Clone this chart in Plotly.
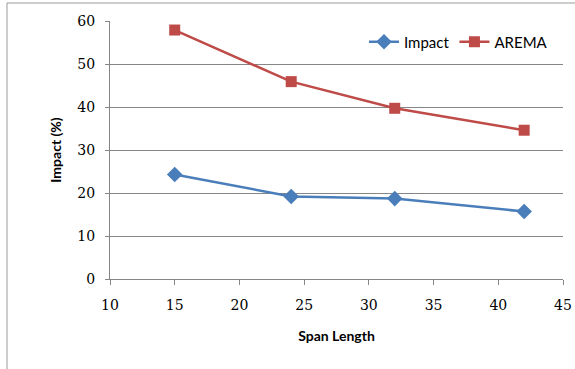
import plotly.graph_objects as go

span = [15, 24, 32, 42]
impact = [24.3, 19.2, 18.7, 15.7]
arema = [57.9, 45.9, 39.7, 34.6]

x_ticks = [10, 15, 20, 25, 30, 35, 40, 45]
y_ticks = [0, 10, 20, 30, 40, 50, 60]

W, H = 575, 369
L, R, T, B = 110, 12, 21, 90
pw, ph = W - L - R, H - T - B

def px_x(p):
    return (p - L) / pw

def px_y(p):
    return (H - B - p) / ph

fig = go.Figure()
fig.add_trace(go.Scatter(
    x=span, y=impact, name="Impact", mode="lines+markers",
    line=dict(color="#4a7ebb", width=2.5),
    marker=dict(symbol="diamond", size=12, color="#4a7ebb"),
))
fig.add_trace(go.Scatter(
    x=span, y=arema, name="AREMA", mode="lines+markers",
    line=dict(color="#be4b48", width=2.5),
    marker=dict(symbol="square", size=11, color="#be4b48"),
))

tick_font = dict(family="DejaVu Serif", size=14, color="#000000")
title_font = dict(family="Lato", size=14, color="#000000")

fig.update_layout(
    width=W, height=H,
    margin=dict(l=L, r=R, t=T, b=B, pad=0, autoexpand=False),
    paper_bgcolor="white", plot_bgcolor="white",
    showlegend=True,
    legend=dict(
        orientation="h", x=px_x(553), xanchor="right", y=px_y(42), yanchor="middle",
        font=dict(family="Lato", size=15, color="#000000"),
        bgcolor="rgba(0,0,0,0)", itemwidth=30, tracegroupgap=0,
    ),
    xaxis=dict(
        range=[10, 45], tickvals=x_ticks, ticktext=[str(v) for v in x_ticks],
        showgrid=False, zeroline=False, showline=True, linecolor="#868686", linewidth=1,
        ticks="outside", ticklen=5, tickcolor="#868686", tickfont=tick_font,
        ticklabelstandoff=8, automargin=False,
        title=dict(text="<b>Span Length</b>", font=title_font, standoff=19),
    ),
    yaxis=dict(
        range=[0, 60], tickvals=y_ticks, ticktext=[str(v) for v in y_ticks],
        showgrid=True, gridcolor="#868686", gridwidth=1,
        zeroline=False, showline=True, linecolor="#868686", linewidth=1,
        ticks="outside", ticklen=4, tickcolor="#868686", tickfont=tick_font,
        ticklabelstandoff=7, automargin=False,
        title=dict(text="<b>Impact (%)</b>", font=title_font, standoff=12),
    ),
    shapes=[
        dict(type="line", xref="paper", yref="paper",
             x0=px_x(7), x1=px_x(7), y0=px_y(369), y1=px_y(3),
             line=dict(color="#9a9a9a", width=1)),
        dict(type="line", xref="paper", yref="paper",
             x0=px_x(7), x1=px_x(575), y0=px_y(3), y1=px_y(3),
             line=dict(color="#9a9a9a", width=1)),
    ],
)

fig.write_html("out.html")
